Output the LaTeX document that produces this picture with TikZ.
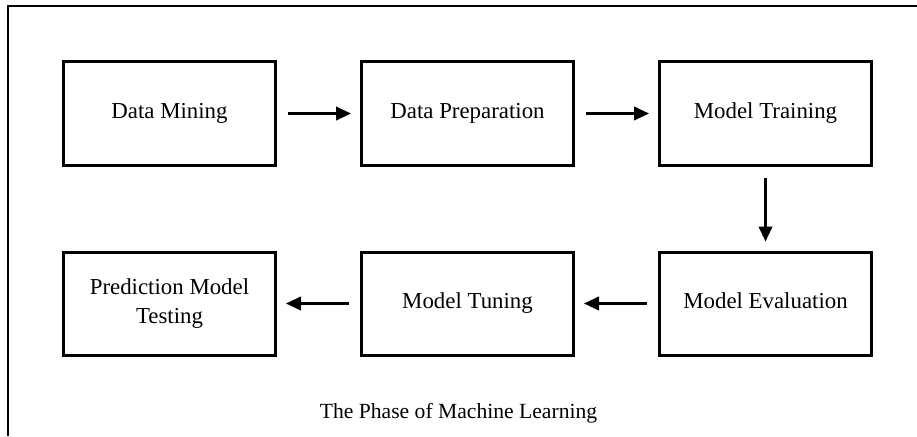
\documentclass[tikz,border=0pt]{standalone}
\usepackage{fontspec}
\setmainfont{Liberation Serif}
\usetikzlibrary{positioning}
\usetikzlibrary{arrows.meta}

\tikzset{
	phase/.style = {draw, rectangle, line width = 0.06cm, minimum width = 4.24cm, minimum height = 2.06cm, align = center, text height = 1.6ex, text depth = 0.45ex, font = \fontsize{13}{16}\selectfont},
	flow/.style = {line width = 0.05cm, -{Triangle[length = 0.3cm, width = 0.27cm]}, shorten < = 0.22cm, shorten > = 0.18cm}
}

\begin{document}
\begin{tikzpicture}
		\useasboundingbox (0,0) rectangle (18.34,-8.72);

		% frame
		\coordinate (fb) at (0.16,-8.72);
		\coordinate (fr) at (18.34,-0.12);
		\draw[line width = 0.05cm] (fb) |- (fr);

		\node[phase] at (3.39,-2.27) (mining) {Data Mining};
		\node[phase, right = 1.66cm of mining] (prep) {Data Preparation};
		\node[phase, right = 1.66cm of prep] (train) {Model Training};

		\node[phase, below = 1.68cm of train] (eval) {Model Evaluation};
		\node[phase, left = 1.66cm of eval] (tune) {Model Tuning};
		\node[phase, left = 1.66cm of tune, text height = , text depth = ] (test) {Prediction Model\\Testing};

		\node[anchor = base, font = \fontsize{12.3}{15}\selectfont] at (9.17,-8.36) (title) {The Phase of Machine Learning};

		\draw[flow] (mining) -- (prep);
		\draw[flow] (prep) -- (train);
		\draw[flow] (train) -- (eval);
		\draw[flow] (eval) -- (tune);
		\draw[flow] (tune) -- (test);
	\end{tikzpicture}
\end{document}
